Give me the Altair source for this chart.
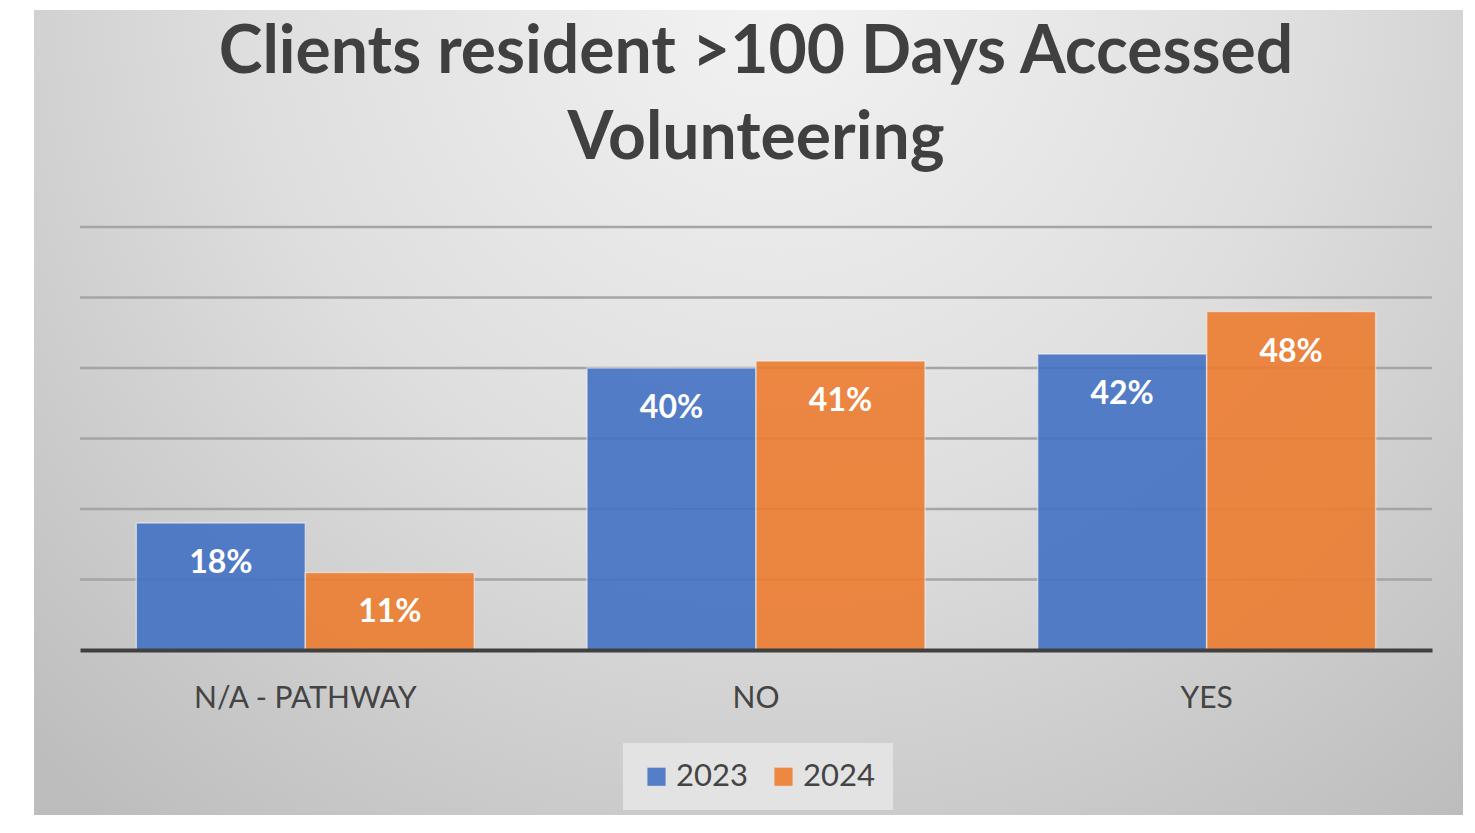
import altair as alt
import pandas as pd

categories = ["N/A - PATHWAY", "NO", "YES"]
years = ["2023", "2024"]
values_2023 = [0.18, 0.40, 0.42]
values_2024 = [0.11, 0.41, 0.48]
y_ticks = [0.1, 0.2, 0.3, 0.4, 0.5, 0.6]

rows = []
for c, v23, v24 in zip(categories, values_2023, values_2024):
    rows.append({"category": c, "year": "2023", "value": v23})
    rows.append({"category": c, "year": "2024", "value": v24})
df = pd.DataFrame(rows)
grid_df = pd.DataFrame({"tick": y_ticks})

FONT = "Lato"
W, H = 1352, 423

y_scale = alt.Scale(domain=[0, 0.6])

bg = alt.Chart(pd.DataFrame({"k": [0]})).mark_rect(
    fill=alt.RadialGradient(
        gradient="radial",
        x1=0.52, y1=0.2, r1=0.0,
        x2=0.52, y2=0.2, r2=0.75,
        stops=[
            alt.GradientStop(offset=0, color="#f3f3f3"),
            alt.GradientStop(offset=0.5, color="#dedede"),
            alt.GradientStop(offset=1, color="#bdbdbd"),
        ],
    ),
    stroke=None,
).encode(
    x=alt.value(-46), x2=alt.value(1383),
    y=alt.value(-217), y2=alt.value(588),
)

grid = alt.Chart(grid_df).mark_rule(color="#a5a5a5", strokeWidth=2.5).encode(
    y=alt.Y("tick:Q", scale=y_scale, axis=None),
    x=alt.value(0), x2=alt.value(W),
)

x_enc = alt.X(
    "category:N", sort=categories,
    scale=alt.Scale(paddingInner=0.25, paddingOuter=0.125),
    axis=alt.Axis(
        title=None, labelAngle=0, labelFont=FONT, labelFontSize=30,
        labelColor="#444444", labelPadding=33, ticks=False, labelLimit=0,
        domainColor="#404040", domainWidth=4, zindex=1, grid=False,
    ),
)

bars = alt.Chart(df).mark_bar(
    opacity=0.9, stroke="#f5f5f5", strokeOpacity=0.6, strokeWidth=1.5
).encode(
    x=x_enc,
    y=alt.Y("value:Q", scale=y_scale, axis=None),
    xOffset=alt.XOffset("year:N", sort=years, scale=alt.Scale(paddingInner=0.0)),
    color=alt.Color(
        "year:N", sort=years,
        scale=alt.Scale(domain=years, range=["#4472C4", "#ED7D31"]),
        legend=alt.Legend(
            title=None, orient="none", legendX=543, legendY=516,
            direction="horizontal", fillColor="#e3e3e3", padding=18,
            symbolType="square", symbolSize=330, symbolOpacity=0.9,
            symbolStrokeWidth=0, labelFont=FONT, labelFontSize=31,
            labelColor="#444444", columnPadding=20, labelOffset=4,
        ),
    ),
)

labels = alt.Chart(df).mark_text(
    font=FONT, fontSize=32, fontWeight="bold", color="white",
    baseline="middle", dy=40,
).encode(
    x=alt.X("category:N", sort=categories),
    y=alt.Y("value:Q", scale=y_scale),
    xOffset=alt.XOffset("year:N", sort=years),
    text=alt.Text("value:Q", format=".0%"),
)

chart = alt.layer(bg, grid, bars, labels).properties(
    width=W, height=H,
    padding={"left": 26, "top": 2, "right": 0, "bottom": 0},
    background="white",
    title=alt.TitleParams(
        text=["Clients resident >100 Days Accessed", "Volunteering"],
        font=FONT, fontSize=66, fontWeight="bold", color="#404040",
        anchor="middle", offset=-163, lineHeight=86,
    ),
).configure_view(stroke=None)

chart.save("out.html", embed_options={"renderer": "svg", "actions": False})
